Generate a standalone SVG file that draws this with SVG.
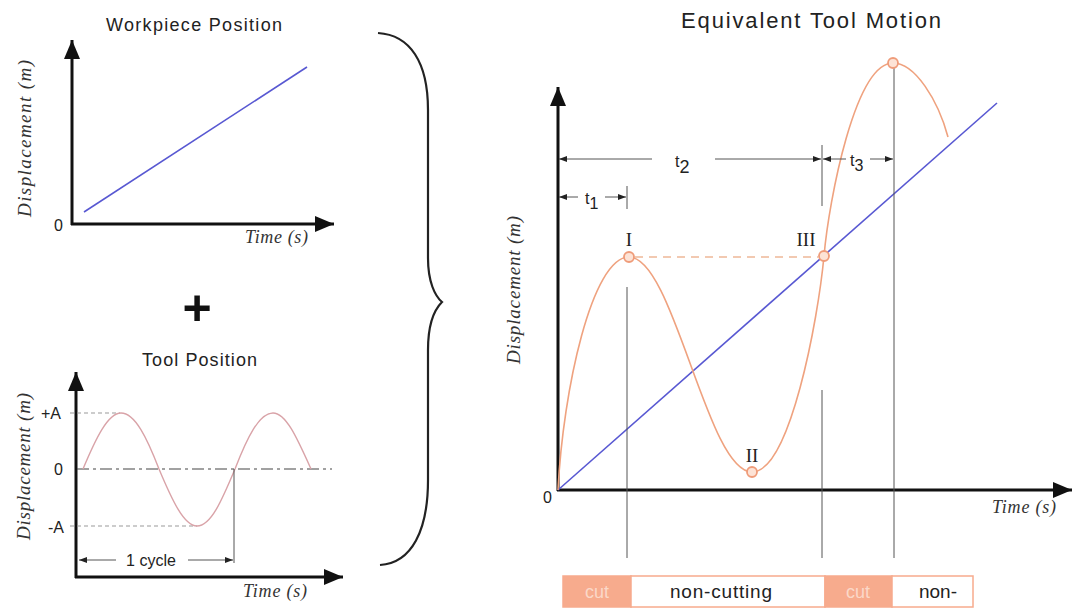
<svg xmlns="http://www.w3.org/2000/svg" width="1075" height="609" viewBox="0 0 1075 609">
<style>
.title{font-family:"Liberation Sans",Arial,sans-serif;fill:#222;}
.lab{font-family:"Liberation Sans",Arial,sans-serif;fill:#222;font-size:16px;}
.ital{font-family:"Liberation Serif","Times New Roman",serif;font-style:italic;fill:#333;}
.roman{font-family:"Liberation Serif","Times New Roman",serif;fill:#222;font-size:19px;}
.axis{stroke:#111;stroke-width:3;fill:none;}
.thin{stroke:#555;stroke-width:1;fill:none;}
.blue{stroke:#5858d2;stroke-width:1.6;fill:none;}
.orange{stroke:#efa27f;stroke-width:1.6;fill:none;}
.pink{stroke:#d9a3a8;stroke-width:1.4;fill:none;}
.dash{stroke:#999;stroke-width:1;stroke-dasharray:4 3;fill:none;}
.odash{stroke:#eeb898;stroke-width:1.4;stroke-dasharray:8 6;fill:none;}
.pt{fill:#fde3d6;stroke:#ef9c7a;stroke-width:1.8;}
.cutbox{fill:#f7ab8d;stroke:#f7ab8d;stroke-width:1.5;}
.ncbox{fill:#fff;stroke:#f7ab8d;stroke-width:1.5;}
.cuttxt{font-family:"Liberation Sans",Arial,sans-serif;fill:#fbd8c8;font-size:18px;text-anchor:middle;}
.nctxt{font-family:"Liberation Sans",Arial,sans-serif;fill:#222;font-size:19px;text-anchor:middle;}
</style>
<defs>
<marker id="axArrow" markerUnits="userSpaceOnUse" markerWidth="20" markerHeight="16" refX="19" refY="8" orient="auto">
<path d="M0,0 L19,8 L0,16 Z" fill="#111"/>
</marker>
<marker id="dimArrow" markerUnits="userSpaceOnUse" markerWidth="8" markerHeight="6" refX="8" refY="3" orient="auto">
<path d="M0,0 L8,3 L0,6 Z" fill="#222"/>
</marker>
</defs>

<g id="workpiece-graph">
<text class="title" x="106" y="31" font-size="18" textLength="176">Workpiece Position</text>
<line class="axis" x1="72" y1="225" x2="72" y2="40" marker-end="url(#axArrow)"/>
<line class="axis" x1="71" y1="224" x2="334" y2="224" marker-end="url(#axArrow)"/>
<line class="blue" x1="84" y1="212" x2="307" y2="67"/>
<text class="lab" x="54" y="231" font-size="17">0</text>
<text class="ital" x="245" y="243" font-size="18" textLength="63">Time (s)</text>
<text class="ital" transform="translate(31,217) rotate(-90)" font-size="19" textLength="157">Displacement (m)</text>
</g>

<g id="plus">
<text x="197" y="325" font-family="Liberation Sans,Arial,sans-serif" font-weight="bold" font-size="50" fill="#111" text-anchor="middle">+</text>
</g>

<g id="tool-graph">
<text class="title" x="142" y="366" font-size="18" textLength="115">Tool Position</text>
<line class="axis" x1="76" y1="578" x2="76" y2="372" marker-end="url(#axArrow)"/>
<line class="axis" x1="75" y1="577" x2="343" y2="577" marker-end="url(#axArrow)"/>
<line class="dash" x1="70" y1="413" x2="120" y2="413"/>
<line class="dash" x1="70" y1="526" x2="197" y2="526"/>
<line stroke="#444" stroke-width="1.2" stroke-dasharray="12 4 3 4" x1="77" y1="469" x2="332" y2="469"/>
<path class="pink" d="M83,469 C96,438 108,413 121,413 C135,413 147,438 159,469 C172,500 184,526 197,526 C211,526 222,500 235,469 C247,438 259,413 273,413 C286,413 297,438 311,469"/>
<line class="thin" x1="234" y1="469" x2="234" y2="563"/>
<line class="thin" x1="116" y1="560" x2="79" y2="560" marker-end="url(#dimArrow)"/>
<line class="thin" x1="188" y1="560" x2="233" y2="560" marker-end="url(#dimArrow)"/>
<text class="lab" x="151" y="566" text-anchor="middle" font-size="17">1 cycle</text>
<text class="lab" x="41" y="419" font-size="17">+A</text>
<text class="lab" x="54" y="475" font-size="17">0</text>
<text class="lab" x="48" y="533" font-size="17">-A</text>
<text class="ital" x="243" y="597" font-size="18" textLength="64">Time (s)</text>
<text class="ital" transform="translate(30,540) rotate(-90)" font-size="19" textLength="147">Displacement (m)</text>
</g>

<g id="brace">
<path d="M378,33 C410,35 428,62 428,110 L428,258 C428,282 435,296 442,302 C435,309 428,324 428,350 L428,480 C428,530 412,563 380,565" fill="none" stroke="#222" stroke-width="2.2"/>
</g>

<g id="equivalent-graph">
<text class="title" x="681" y="28" font-size="22" textLength="260">Equivalent Tool Motion</text>
<line class="axis" x1="558" y1="491" x2="558" y2="87" marker-end="url(#axArrow)"/>
<line class="axis" x1="557" y1="490" x2="1072" y2="490" marker-end="url(#axArrow)"/>
<line class="blue" x1="558" y1="490" x2="997" y2="103"/>
<path class="orange" d="M558,490 C563,390 592,257 629,257 C674,257 707,472 752,472 C790,472 818,320 824,256 C829,200 855,63 893,63 C915,63 938,100 948,137"/>
<line class="odash" x1="635" y1="257" x2="818" y2="257"/>
<line class="thin" x1="627" y1="287" x2="627" y2="558"/>
<line class="thin" x1="627" y1="186" x2="627" y2="209"/>
<line class="thin" x1="822" y1="145" x2="822" y2="206"/>
<line class="thin" x1="822" y1="390" x2="822" y2="558"/>
<line class="thin" x1="894" y1="68" x2="894" y2="558"/>
<line class="thin" x1="652" y1="159" x2="559" y2="159" marker-end="url(#dimArrow)"/>
<line class="thin" x1="715" y1="159" x2="821" y2="159" marker-end="url(#dimArrow)"/>
<line class="thin" x1="846" y1="159" x2="823" y2="159" marker-end="url(#dimArrow)"/>
<line class="thin" x1="870" y1="159" x2="893" y2="159" marker-end="url(#dimArrow)"/>
<line class="thin" x1="578" y1="197" x2="559" y2="197" marker-end="url(#dimArrow)"/>
<line class="thin" x1="605" y1="197" x2="626" y2="197" marker-end="url(#dimArrow)"/>
<text class="lab" x="675" y="167" font-size="21">t<tspan dy="6" font-size="18">2</tspan></text>
<text class="lab" x="850" y="166" font-size="19">t<tspan dy="5" font-size="16">3</tspan></text>
<text class="lab" x="585" y="204" font-size="19">t<tspan dy="5" font-size="16">1</tspan></text>
<circle class="pt" cx="629" cy="257" r="5"/>
<circle class="pt" cx="752" cy="472" r="5"/>
<circle class="pt" cx="824" cy="256" r="5"/>
<circle class="pt" cx="893" cy="63" r="5"/>
<text class="roman" x="629" y="246" text-anchor="middle">I</text>
<text class="roman" x="752" y="462" text-anchor="middle">II</text>
<text class="roman" x="806" y="246" text-anchor="middle">III</text>
<text class="lab" x="543" y="503" font-size="17">0</text>
<text class="ital" x="992" y="513" font-size="18" textLength="64">Time (s)</text>
<text class="ital" transform="translate(520,364) rotate(-90)" font-size="19" textLength="148">Displacement (m)</text>
</g>

<g id="cut-bar">
<rect class="cutbox" x="563" y="576" width="68" height="31"/>
<rect class="ncbox" x="631" y="576" width="194" height="31"/>
<rect class="cutbox" x="825" y="576" width="67" height="31"/>
<rect class="ncbox" x="892" y="576" width="81" height="31"/>
<text class="cuttxt" x="597" y="598">cut</text>
<text class="nctxt" x="721" y="598" textLength="102">non-cutting</text>
<text class="cuttxt" x="858" y="598">cut</text>
<text class="nctxt" x="938" y="598">non-</text>
</g>
</svg>
